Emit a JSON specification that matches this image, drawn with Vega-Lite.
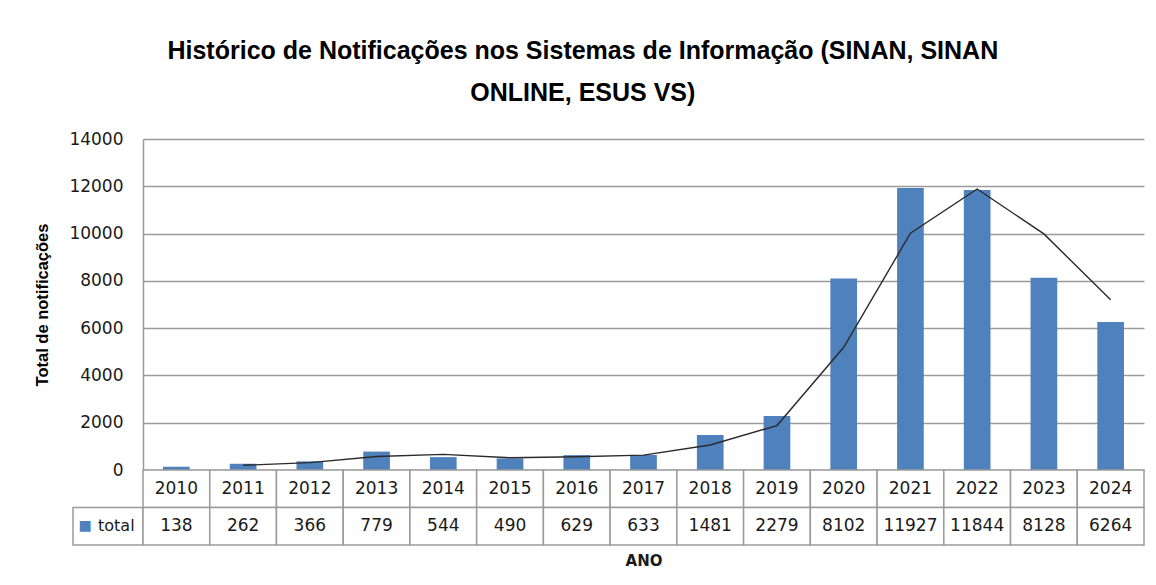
{
  "$schema": "https://vega.github.io/schema/vega-lite/v6.json",
  "background": "white",
  "padding": {"left": 34, "top": 39, "right": 10, "bottom": 10},
  "datasets": {
    "notif": [
      {"year": "2010", "total": 138, "trend": null},
      {"year": "2011", "total": 262, "trend": 200},
      {"year": "2012", "total": 366, "trend": 314},
      {"year": "2013", "total": 779, "trend": 572.5},
      {"year": "2014", "total": 544, "trend": 661.5},
      {"year": "2015", "total": 490, "trend": 517},
      {"year": "2016", "total": 629, "trend": 559.5},
      {"year": "2017", "total": 633, "trend": 631},
      {"year": "2018", "total": 1481, "trend": 1057},
      {"year": "2019", "total": 2279, "trend": 1880},
      {"year": "2020", "total": 8102, "trend": 5190.5},
      {"year": "2021", "total": 11927, "trend": 10014.5},
      {"year": "2022", "total": 11844, "trend": 11885.5},
      {"year": "2023", "total": 8128, "trend": 9986},
      {"year": "2024", "total": 6264, "trend": 7196}
    ]
  },
  "title": {
    "text": ["Histórico de Notificações nos Sistemas de Informação (SINAN, SINAN", "ONLINE, ESUS VS)"],
    "font": "Liberation Sans",
    "fontSize": 25,
    "fontWeight": "bold",
    "color": "#000000",
    "lineHeight": 42,
    "anchor": "middle",
    "dx": -7,
    "offset": 24
  },
  "config": {
    "view": {"stroke": null},
    "font": "DejaVu Sans"
  },
  "columns": 2,
  "align": "each",
  "bounds": "flush",
  "spacing": 0,
  "concat": [
    {
      "width": 70,
      "height": 331,
      "data": {"values": [{"blank": ""}]},
      "mark": {"type": "text"},
      "encoding": {"text": {"field": "blank"}}
    },
    {
      "width": 1001,
      "height": 331,
      "data": {"name": "notif"},
      "encoding": {
        "x": {
          "field": "year",
          "type": "ordinal",
          "scale": {"paddingInner": 0, "paddingOuter": 0},
          "axis": null
        }
      },
      "layer": [
        {
          "mark": {"type": "bar", "width": {"band": 0.4}, "color": "#4F81BD"},
          "encoding": {
            "y": {
              "field": "total",
              "type": "quantitative",
              "scale": {"domain": [0, 14000], "nice": false},
              "axis": {
                "values": [0, 2000, 4000, 6000, 8000, 10000, 12000, 14000],
                "format": "d",
                "title": "Total de notificações",
                "titleFont": "Liberation Sans",
                "titleFontSize": 16.5,
                "titleFontWeight": "bold",
                "titleColor": "#000000",
                "titlePadding": 18,
                "labelFont": "DejaVu Sans",
                "labelFontSize": 17,
                "labelColor": "#1a1a1a",
                "labelPadding": 20,
                "ticks": false,
                "tickSize": 0,
                "domain": true,
                "domainColor": "#9a9a9a",
                "domainWidth": 1.5,
                "grid": true,
                "gridColor": "#9a9a9a",
                "gridWidth": 1.5
              }
            }
          }
        },
        {
          "mark": {"type": "line", "color": "#2a2a2a", "strokeWidth": 1.4},
          "encoding": {
            "y": {"field": "trend", "type": "quantitative"}
          }
        }
      ]
    },
    {
      "width": 70,
      "height": 75,
      "data": {"values": [{"row": "total", "symbol": "■", "label": "total"}]},
      "encoding": {
        "y": {
          "field": "row",
          "type": "ordinal",
          "scale": {"domain": ["year", "total"], "paddingInner": 0, "paddingOuter": 0},
          "axis": null
        }
      },
      "layer": [
        {
          "mark": {"type": "rect", "fill": "white", "stroke": "#9a9a9a", "strokeWidth": 1.5}
        },
        {
          "mark": {"type": "text", "color": "#4F81BD", "fontSize": 14, "dx": -23, "baseline": "middle"},
          "encoding": {"text": {"field": "symbol"}}
        },
        {
          "mark": {"type": "text", "color": "#1a1a1a", "fontSize": 16, "align": "left", "dx": -10, "baseline": "middle"},
          "encoding": {"text": {"field": "label"}}
        }
      ]
    },
    {
      "width": 1001,
      "height": 75,
      "data": {"name": "notif"},
      "transform": [{"fold": ["year", "total"], "as": ["row", "label"]}],
      "encoding": {
        "x": {
          "field": "year",
          "type": "ordinal",
          "scale": {"paddingInner": 0, "paddingOuter": 0},
          "axis": {
            "title": "ANO",
            "titleFont": "DejaVu Sans",
            "titleFontSize": 15,
            "titleFontWeight": "bold",
            "titleColor": "#1a1a1a",
            "titlePadding": 8,
            "labels": false,
            "ticks": false,
            "domain": false
          }
        },
        "y": {
          "field": "row",
          "type": "ordinal",
          "scale": {"domain": ["year", "total"], "paddingInner": 0, "paddingOuter": 0},
          "axis": null
        }
      },
      "layer": [
        {
          "mark": {"type": "rect", "fill": "white", "stroke": "#9a9a9a", "strokeWidth": 1.5}
        },
        {
          "mark": {"type": "text", "color": "#1a1a1a", "fontSize": 17, "baseline": "middle"},
          "encoding": {"text": {"field": "label"}}
        }
      ]
    }
  ]
}
